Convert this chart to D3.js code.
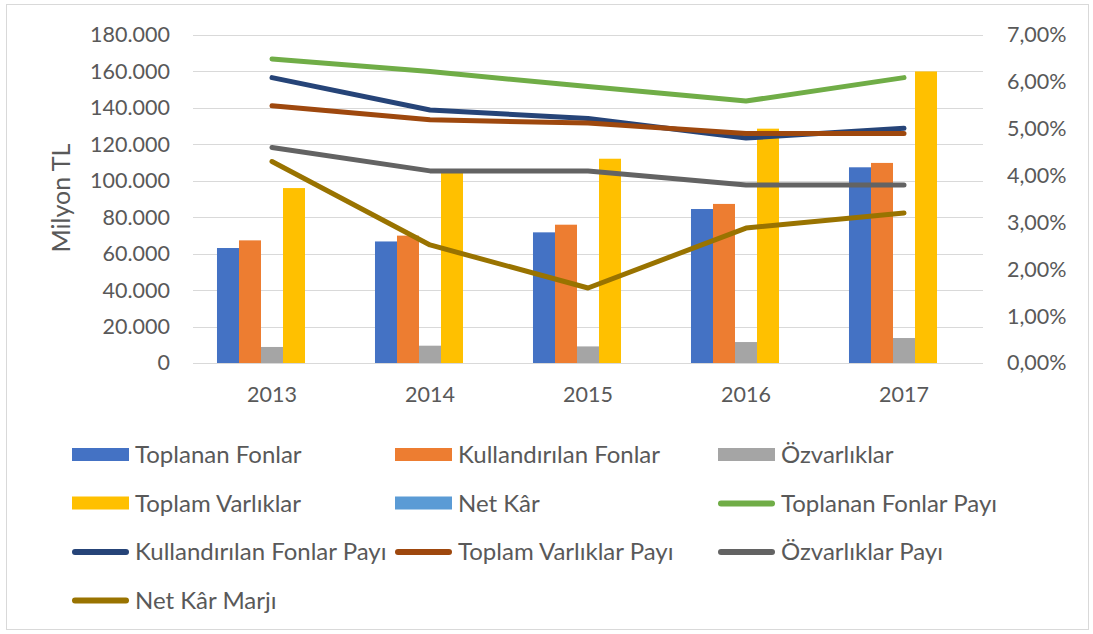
<!DOCTYPE html>
<html>
<head>
<meta charset="utf-8">
<script src="https://cdn.jsdelivr.net/npm/d3@7"></script>
<style>
  body { margin: 0; background: #fff; }
  svg text { font-family: Lato, "Open Sans", sans-serif; fill: #595959; }
</style>
</head>
<body>
<div id="chart"></div>
<script>
// yillar
var years = ["2013", "2014", "2015", "2016", "2017"]

// bar series (milyon TL)
var toplananFonlar = [63100, 66700, 71700, 84500, 107400]
var kullandirilanFonlar = [67300, 69900, 75900, 87300, 109800]
var ozvarliklar = [8800, 9500, 9100, 11500, 13700]
var toplamVarliklar = [96000, 104300, 112100, 128600, 160000]
var netKar = [0, 0, 0, 0, 0]

// line series (%)
var toplananFonlarPayi = [6.49, 6.22, 5.90, 5.59, 6.09]
var kullandirilanFonlarPayi = [6.09, 5.40, 5.22, 4.80, 5.01]
var toplamVarliklarPayi = [5.49, 5.19, 5.12, 4.90, 4.90]
var ozvarliklarPayi = [4.60, 4.10, 4.10, 3.80, 3.80]
var netKarMarji = [4.30, 2.52, 1.60, 2.88, 3.20]

var leftTicks = [0, 20000, 40000, 60000, 80000, 100000, 120000, 140000, 160000, 180000]
var rightTicks = [0, 1, 2, 3, 4, 5, 6, 7]

var barSeries = [
  { name: "Toplanan Fonlar", values: toplananFonlar, color: "#4472c4" },
  { name: "Kullandırılan Fonlar", values: kullandirilanFonlar, color: "#ed7d31" },
  { name: "Özvarlıklar", values: ozvarliklar, color: "#a5a5a5" },
  { name: "Toplam Varlıklar", values: toplamVarliklar, color: "#ffc000" },
  { name: "Net Kâr", values: netKar, color: "#5b9bd5" }
]
var lineSeries = [
  { name: "Toplanan Fonlar Payı", values: toplananFonlarPayi, color: "#70ad47" },
  { name: "Kullandırılan Fonlar Payı", values: kullandirilanFonlarPayi, color: "#264478" },
  { name: "Toplam Varlıklar Payı", values: toplamVarliklarPayi, color: "#9e480e" },
  { name: "Özvarlıklar Payı", values: ozvarliklarPayi, color: "#636363" },
  { name: "Net Kâr Marjı", values: netKarMarji, color: "#997300" }
]

var width = 1093, height = 634
var margin = { top: 35, left: 193, right: 110, bottom: 271 }
var chartWidth = width - margin.left - margin.right
var chartHeight = height - margin.top - margin.bottom

var trLocale = d3.formatLocale({ decimal: ",", thousands: ".", grouping: [3], currency: ["", " TL"] })
var fmtLeft = trLocale.format(",")
var fmtRight = function(d) { return trLocale.format(".2f")(d) + "%" }

var svg = d3.select("#chart").append("svg")
    .attr("width", width).attr("height", height)

// outer frame
svg.append("rect")
    .attr("x", 6.5).attr("y", 4.5)
    .attr("width", 1082).attr("height", 625)
    .attr("fill", "#fff")
    .attr("stroke", "#d9d9d9")

var chartLayer = svg.append("g")
    .attr("transform", "translate(" + [margin.left, margin.top] + ")")

var x0 = d3.scaleBand().domain(years).range([0, chartWidth]).padding(0)
var x1 = d3.scaleBand().domain(barSeries.map(function(d) { return d.name }))
    .range([0, x0.bandwidth()]).paddingInner(0).paddingOuter(1.09)
var yLeft = d3.scaleLinear().domain([0, 180000]).range([chartHeight, 0])
var yRight = d3.scaleLinear().domain([0, 7]).range([chartHeight, 0])

// gridlines
chartLayer.append("g")
    .selectAll("line")
    .data(leftTicks)
    .enter().append("line")
    .attr("x1", 0).attr("x2", chartWidth)
    .attr("y1", function(d) { return Math.round(yLeft(d)) + 0.5 })
    .attr("y2", function(d) { return Math.round(yLeft(d)) + 0.5 })
    .attr("stroke", "#d9d9d9")
    .attr("stroke-width", 1.2)

// axes
var leftAxis = chartLayer.append("g")
    .call(d3.axisLeft(yLeft).tickValues(leftTicks).tickFormat(fmtLeft).tickSize(0).tickPadding(23))
var rightAxis = chartLayer.append("g")
    .attr("transform", "translate(" + chartWidth + ",0)")
    .call(d3.axisRight(yRight).tickValues(rightTicks).tickFormat(fmtRight).tickSize(0).tickPadding(24))
var bottomAxis = chartLayer.append("g")
    .attr("transform", "translate(0," + chartHeight + ")")
    .call(d3.axisBottom(x0).tickSize(0).tickPadding(24))

;[leftAxis, rightAxis, bottomAxis].forEach(function(a) {
  a.select(".domain").remove()
  a.selectAll("text")
      .attr("font-family", "Lato, sans-serif")
      .attr("font-size", 21.5)
      .attr("fill", "#595959")
})

// axis title
svg.append("text")
    .attr("transform", "translate(70,198) rotate(-90)")
    .attr("text-anchor", "middle")
    .attr("font-size", 25)
    .text("Milyon TL")

// bars
var barGroups = chartLayer.append("g")
    .selectAll("g")
    .data(barSeries)
    .enter().append("g")
    .attr("fill", function(d) { return d.color })

barGroups.selectAll("rect")
    .data(function(s) { return s.values.map(function(v, i) { return { name: s.name, year: years[i], value: v } }) })
    .enter().append("rect")
    .attr("x", function(d) { return x0(d.year) + x1(d.name) })
    .attr("width", x1.bandwidth())
    .attr("y", function(d) { return yLeft(d.value) })
    .attr("height", function(d) { return chartHeight - yLeft(d.value) })

// lines
var line = d3.line()
    .x(function(d, i) { return x0(years[i]) + x0.bandwidth() / 2 })
    .y(function(d) { return yRight(d) })

chartLayer.append("g")
    .selectAll("path")
    .data(lineSeries)
    .enter().append("path")
    .attr("d", function(d) { return line(d.values) })
    .attr("fill", "none")
    .attr("stroke", function(d) { return d.color })
    .attr("stroke-width", 5)
    .attr("stroke-linecap", "round")
    .attr("stroke-linejoin", "round")

// legend
var legendItems = barSeries.map(function(d) { return { name: d.name, color: d.color, type: "bar" } })
    .concat(lineSeries.map(function(d) { return { name: d.name, color: d.color, type: "line" } }))

var legend = svg.append("g")
    .selectAll("g")
    .data(legendItems)
    .enter().append("g")
    .attr("transform", function(d, i) {
      return "translate(" + [72 + (i % 3) * 323, 455 + Math.floor(i / 3) * 48.5] + ")"
    })

legend.filter(function(d) { return d.type == "bar" })
    .append("rect")
    .attr("x", 0).attr("y", -7)
    .attr("width", 57).attr("height", 13)
    .attr("fill", function(d) { return d.color })

legend.filter(function(d) { return d.type == "line" })
    .append("line")
    .attr("x1", 3).attr("x2", 54)
    .attr("y1", 0).attr("y2", 0)
    .attr("stroke", function(d) { return d.color })
    .attr("stroke-width", 6)
    .attr("stroke-linecap", "round")

legend.append("text")
    .attr("x", 63)
    .attr("y", 0)
    .attr("dy", "0.35em")
    .attr("font-size", 24)
    .text(function(d) { return d.name })
</script>
</body>
</html>
